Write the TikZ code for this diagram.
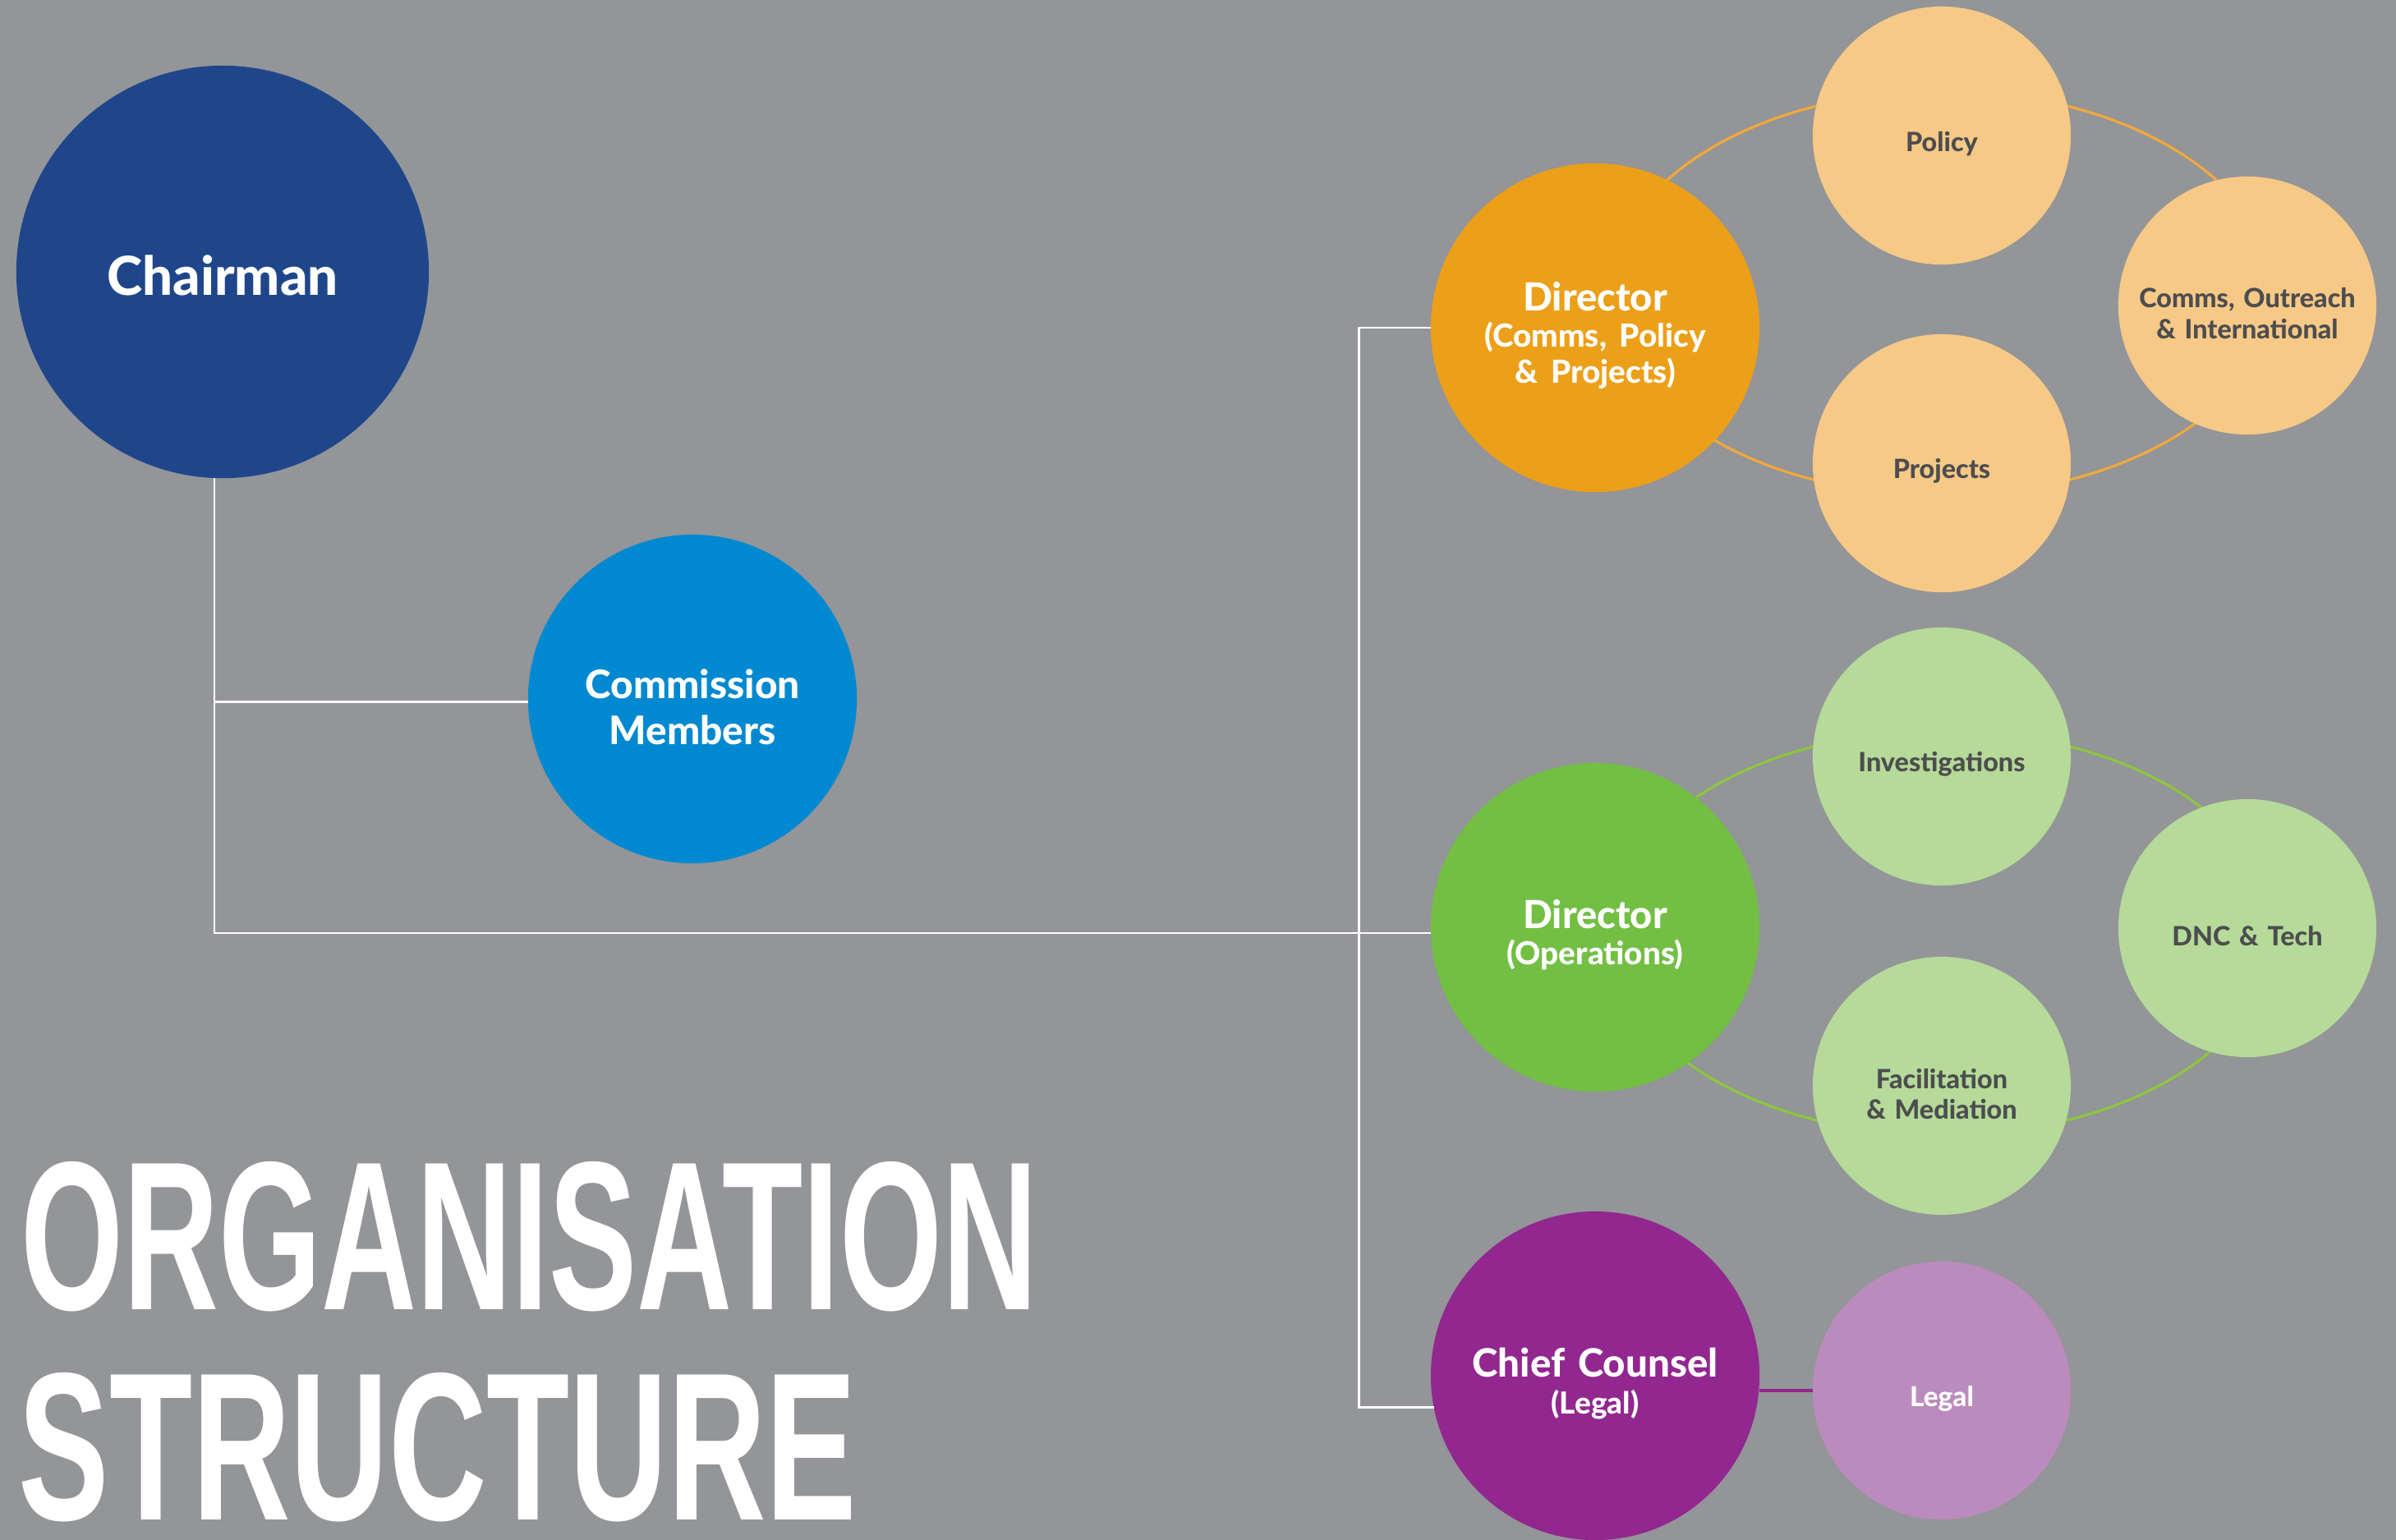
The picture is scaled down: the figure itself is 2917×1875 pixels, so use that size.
\documentclass[tikz,border=0pt]{standalone}
\usepackage{graphicx}
\usepackage{fontspec}
\setmainfont{Lato}[BoldFont={Lato Heavy}]
\newfontfamily\headfont{Liberation Sans}
\usepackage{xcolor}
\usepackage{tikz}

\definecolor{pagegray}{HTML}{939598}
\definecolor{chairblue}{HTML}{1F468B}
\definecolor{memberblue}{HTML}{0089D0}
\definecolor{deeporange}{HTML}{EC9F18}
\definecolor{paleorange}{HTML}{F6C987}
\definecolor{ringorange}{HTML}{F2A93B}
\definecolor{deepgreen}{HTML}{72BF44}
\definecolor{palegreen}{HTML}{B5DA99}
\definecolor{ringgreen}{HTML}{8DC63F}
\definecolor{deeppurple}{HTML}{92278F}
\definecolor{palepurple}{HTML}{BC8BBE}
\definecolor{labelgray}{HTML}{4D4D4F}

% second and third lines of the director circles
\newcommand{\subline}[1]{{\fontsize{11}{12.5}\selectfont #1}}
% pushes the text a little below the circle centre
\newcommand{\dropline}[1]{\rule{0pt}{\dimexpr\fontcharht\font`\h+#1\relax}}

\tikzset{
textdrop/.store in = \dropamount,
textdrop = 5.7pt,
bubble/.style = {circle, minimum size=#1, inner sep=0pt, outer sep=0pt,
                 align=center, execute at begin node=\dropline{\dropamount}},
bubble/.default = 3.14cm % diameter of the small team circles
}
\tikzset{
lead/.style = {bubble=4cm, fill=#1, text=white, text width=3.4cm,
               font=\bfseries\fontsize{13.4}{12.5}\selectfont},
team/.style = {bubble, fill=#1, text=labelgray, text width=2.8cm,
               font=\bfseries\fontsize{9.2}{10.6}\selectfont}
}
\tikzset{
link/.style = {draw=white, line width=0.8pt},
ring/.style = {draw=#1, line width=0.9pt}
}

\begin{document}
\begin{tikzpicture}[x=0.01cm, y=-0.01cm]

    \useasboundingbox (0,0) rectangle (2917,1875);
    \fill[pagegray] (0,0) rectangle (2917,1875);

    % rings behind the team circles
    \draw[ring=ringorange] (2364,357) ellipse [x radius=4.03cm, y radius=2.46cm];
    \draw[ring=ringgreen] (2364,1136) ellipse [x radius=4.03cm, y radius=2.46cm];

    \node[bubble=5.02cm, fill=chairblue, text=white, text width=3.4cm, textdrop=2.8pt,
          font=\bfseries\fontsize{18.6}{23}\selectfont] (chairCircle) at (271,331) {Chairman};
    \node[bubble=4cm, fill=memberblue, text=white, text width=3.4cm,
          font=\bfseries\fontsize{13.6}{15.9}\selectfont] (memberCircle) at (843,851) {Commission\\Members};

    \node[lead=deeporange] (commsDir) at (1942,399) {Director\\\subline{(Comms, Policy}\\\subline{\& Projects)}};
    \node[lead=deepgreen] (opsDir) at (1942,1129) {Director\\\subline{(Operations)}};
    \node[lead=deeppurple, font=\bfseries\fontsize{13.5}{12.8}\selectfont] (counselDir) at (1942,1675) {Chief Counsel\\{\fontsize{10.5}{12.8}\selectfont(Legal)}};

    \node[team=paleorange] (policyBubble) at (2364,165) {Policy};
    \node[team=paleorange] (outreachBubble) at (2736,372) {Comms, Outreach\\\& International};
    \node[team=paleorange] (projectsBubble) at (2364,564) {Projects};

    \node[team=palegreen] (investBubble) at (2364,921) {Investigations};
    \node[team=palegreen] (techBubble) at (2736,1130) {DNC \& Tech};
    \node[team=palegreen] (mediationBubble) at (2364,1322) {Facilitation\\\& Mediation};

    \node[team=palepurple, text=white, font=\bfseries\fontsize{9.5}{10}\selectfont] (legalBubble) at (2364,1693) {Legal};

    \node[anchor=base west, inner sep=0pt, text=white] (titleTop) at (25,1594) {\resizebox{12.37cm}{1.80cm}{\headfont\bfseries ORGANISATION}};
    \node[anchor=base west, inner sep=0pt, text=white] (titleBottom) at (22,1850) {\resizebox{10.2cm}{1.79cm}{\headfont\bfseries STRUCTURE}};

    \coordinate (trunk) at ([xshift=-1mm]chairCircle.south);
    \draw[link] (trunk) |- (opsDir.182);
    \draw[link] (memberCircle.181) -- (memberCircle.181 -| trunk);
    \draw[link] (commsDir.west) -- ++(-87,0) |- (counselDir.191);
    \draw[draw=deeppurple, line width=1pt] (legalBubble.west) -- (legalBubble.west -| counselDir.east);

\end{tikzpicture}
\end{document}
